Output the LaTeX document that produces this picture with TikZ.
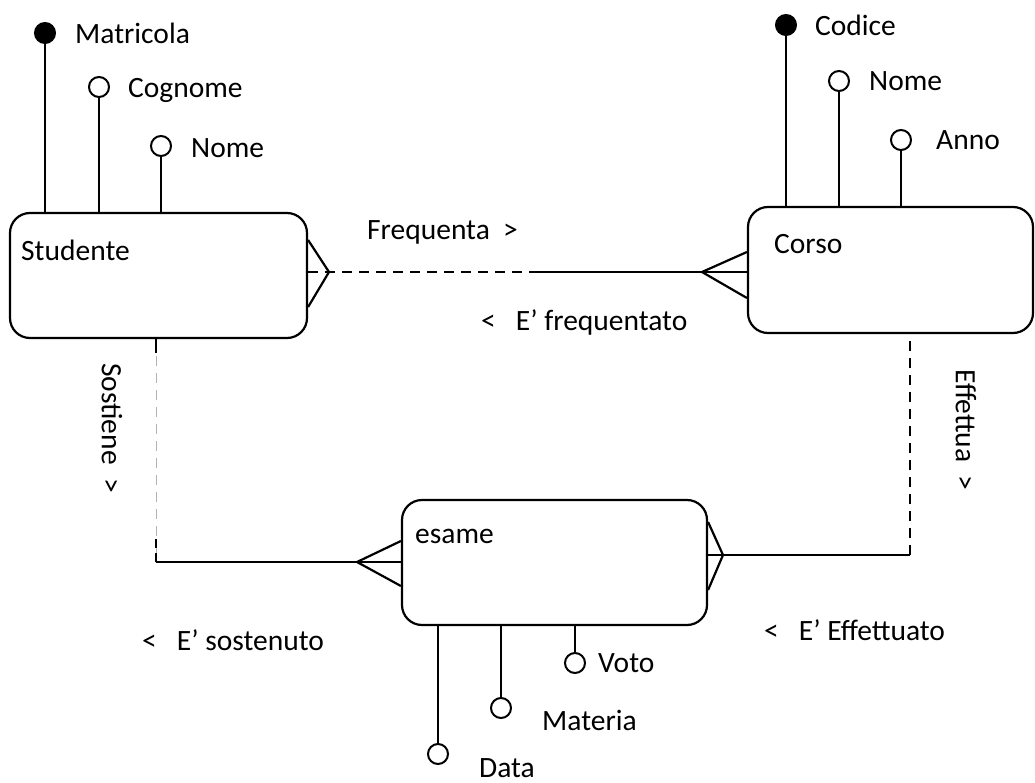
\documentclass[tikz,border=0pt]{standalone}
\usepackage{fontspec}
\setmainfont{Carlito}
\usetikzlibrary{positioning}
\tikzset{
    entity/.style={draw, line width=2.2pt, rounded corners=20pt, inner sep=0pt},
    keyattr/.style={circle, draw, fill=black, minimum size=20pt, inner sep=0pt, line width=2pt},
    attr/.style={circle, draw, fill=white, minimum size=20pt, inner sep=0pt, line width=2pt},
    lbl/.style={inner sep=0pt, font=\fontsize{29.5}{34}\selectfont},
    link/.style={line width=2.2pt},
    weak/.style={line width=2pt, dash pattern=on 10pt off 7pt},
}
\begin{document}
\begin{tikzpicture}[x=1pt, y=-1pt]
            \useasboundingbox (0,0) rectangle (1035,783);
            % entita
            \node [entity, minimum width=297pt, minimum height=125pt] (studente) at (158.5,275.5) {};
            \node [entity, minimum width=285pt, minimum height=126pt] (corso) at (890.5,270) {};
            \node [entity, minimum width=305pt, minimum height=125pt] (esame) at (554.5,562.5) {};
            \node [lbl, anchor=west] (studenteT) at (21,250) {Studente};
            \node [lbl, anchor=west] (corsoT) at (774,244) {Corso};
            \node [lbl, anchor=west] (esameT) at (415,536) {esame};
            % attributi Studente
            \node [keyattr] (matricola) at (45,33) {};
            \node [attr] (cognome) at (99,87) {};
            \node [attr] (nomeS) at (161,146) {};
            \node [lbl, right=19pt of matricola] (matricolaT) {Matricola};
            \node [lbl, right=18pt of cognome, yshift=-3pt] (cognomeT) {Cognome};
            \node [lbl, right=19pt of nomeS, yshift=-2pt] (nomeST) {Nome};
            \draw [link] (matricola) -- (matricola |- studente.north);
            \draw [link] (cognome) -- (cognome |- studente.north);
            \draw [link] (nomeS) -- (nomeS |- studente.north);
            % attributi Corso
            \node [keyattr] (codice) at (786,25) {};
            \node [attr] (nomeC) at (839,81) {};
            \node [attr] (anno) at (901,140) {};
            \node [lbl, right=18pt of codice] (codiceT) {Codice};
            \node [lbl, right=19pt of nomeC] (nomeCT) {Nome};
            \node [lbl, right=24pt of anno] (annoT) {Anno};
            \draw [link] (codice) -- (codice |- corso.north);
            \draw [link] (nomeC) -- (nomeC |- corso.north);
            \draw [link] (anno) -- (anno |- corso.north);
            % attributi esame
            \node [attr] (data) at (438,754) {};
            \node [attr] (materia) at (501,708) {};
            \node [attr] (voto) at (575,663) {};
            \node [lbl, anchor=west] (dataT) at (479,768) {Data};
            \node [lbl, anchor=west] (materiaT) at (542,720) {Materia};
            \node [lbl, right=12pt of voto] (votoT) {Voto};
            \draw [link] (data) -- (data |- esame.south);
            \draw [link] (materia) -- (materia |- esame.south);
            \draw [link] (voto) -- (voto |- esame.south);
            % Frequenta
            \coordinate (fq1) at (533,272);
            \coordinate (fqS) at (329,272);
            \coordinate (fqC) at (702,272);
            \draw [weak] (studente.east |- fq1) -- (fq1);
            \draw [link] (fq1) -- (corso.west |- fq1);
            \draw [link] (studente.east |- 0,240) -- (fqS) -- (studente.east |- 0,307);
            \draw [link] (corso.west |- 0,252) -- (fqC) -- (corso.west |- 0,298);
            \node [lbl, anchor=west] (freqT) at (367,232) {Frequenta\ \ >};
            \node [lbl, anchor=west] (freqInvT) at (481,322) {<\ \ \ E’ frequentato};
            % Sostiene
            \coordinate (so1) at (156,562);
            \coordinate (soE) at (357,562);
            \draw [line width=1pt, black!30, dash pattern=on 10pt off 7pt] (so1 |- studente.south) -- (so1);
            \draw [link] (so1 |- studente.south) -- ++(0,14);
            \draw [link, dash pattern=on 9pt off 5pt] (so1) -- ++(0,-24);
            \draw [link] (so1) -- (esame.west |- so1);
            \draw [link] (esame.west |- 0,541) -- (soE) -- (esame.west |- 0,586);
            \node [lbl, rotate=-90] (sosT) at (112,428) {Sostiene\ \ >};
            \node [lbl, anchor=west] (sosInvT) at (142,640) {<\ \ \ E’ sostenuto};
            % Effettua
            \coordinate (ef1) at (910,555);
            \coordinate (efE) at (723,555);
            \draw [link] (esame.east |- ef1) -- (ef1);
            \draw [weak] (ef1) -- (ef1 |- corso.south);
            \draw [link] (esame.east |- 0,522) -- (efE) -- (esame.east |- 0,590);
            \node [lbl, rotate=-90] (effT) at (966,430) {Effettua\ \ >};
            \node [lbl, anchor=west] (effInvT) at (764,630) {<\ \ \ E’ Effettuato};
\end{tikzpicture}
\end{document}
